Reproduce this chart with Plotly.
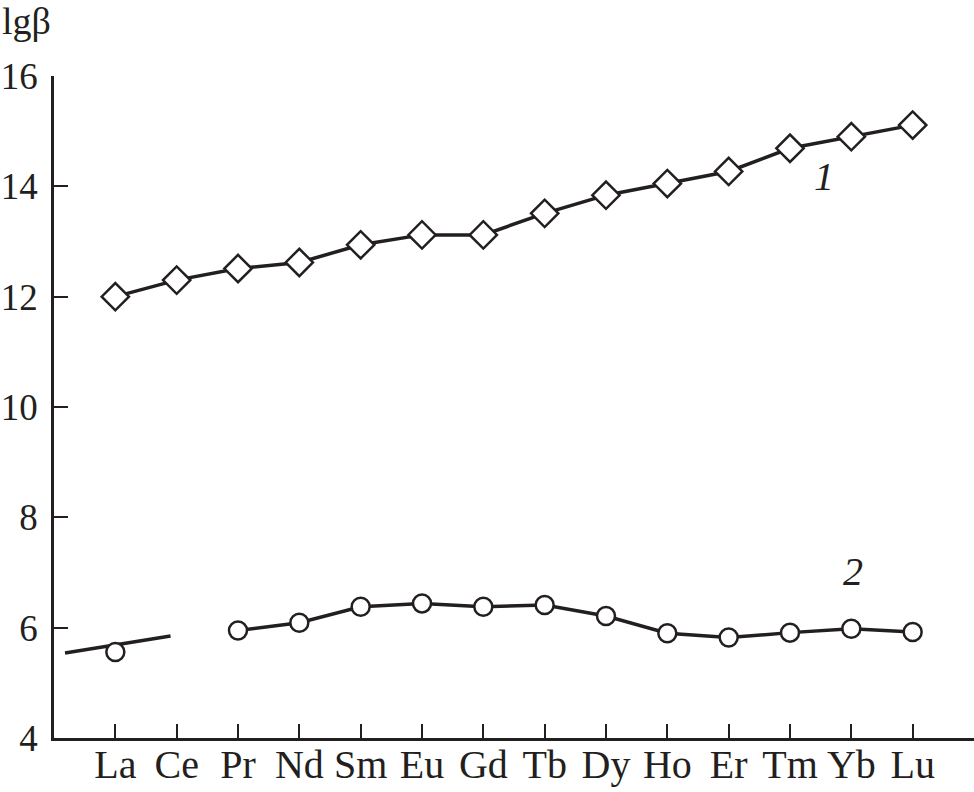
import plotly.graph_objects as go

elements = ["La", "Ce", "Pr", "Nd", "Sm", "Eu", "Gd", "Tb", "Dy", "Ho", "Er", "Tm", "Yb", "Lu"]
series1 = [12.00, 12.30, 12.51, 12.62, 12.94, 13.12, 13.12, 13.51, 13.84, 14.05, 14.27, 14.69, 14.90, 15.11]
series2 = [5.56, None, 5.95, 6.09, 6.38, 6.44, 6.38, 6.41, 6.21, 5.90, 5.82, 5.91, 5.98, 5.92]
trend_x = [-0.82, 0.90]
trend_y = [5.54, 5.85]
y_ticks = [4, 6, 8, 10, 12, 14, 16]

xs = list(range(len(elements)))
FONT = "Liberation Serif"
INK = "#231f20"

fig = go.Figure()
fig.add_trace(go.Scatter(x=trend_x, y=trend_y, mode="lines",
                         line=dict(color=INK, width=3.5), showlegend=False))
fig.add_trace(go.Scatter(x=xs, y=series1, mode="lines+markers",
                         line=dict(color=INK, width=3.5),
                         marker=dict(symbol="diamond", size=21, color="white",
                                     line=dict(color=INK, width=2.5)),
                         showlegend=False))
fig.add_trace(go.Scatter(x=xs, y=series2, mode="lines+markers", connectgaps=False,
                         line=dict(color=INK, width=3.5),
                         marker=dict(symbol="circle", size=18, color="white",
                                     line=dict(color=INK, width=2.5)),
                         showlegend=False))

fig.add_annotation(x=11.55, y=14.17, text="<i>1</i>", showarrow=False,
                   font=dict(family=FONT, size=40, color=INK))
fig.add_annotation(x=12.02, y=7.01, text="<i>2</i>", showarrow=False,
                   font=dict(family=FONT, size=40, color=INK))
fig.add_annotation(xref="paper", yref="paper", x=-0.0587, y=1.083, xanchor="left",
                   yanchor="middle", text="lgβ", showarrow=False,
                   font=dict(family=FONT, size=38, color=INK))

fig.update_xaxes(range=[-1, 14], tickvals=xs, ticktext=elements,
                 ticks="inside", ticklen=14, tickwidth=2, tickcolor=INK,
                 showline=True, linecolor=INK, linewidth=2.5,
                 showgrid=False, zeroline=False, automargin=False,
                 ticklabelstandoff=-11,
                 tickfont=dict(family=FONT, size=40, color=INK))
fig.update_yaxes(range=[4, 16], tickvals=y_ticks,
                 ticks="inside", ticklen=14, tickwidth=2, tickcolor=INK,
                 showline=True, linecolor=INK, linewidth=2.5,
                 showgrid=False, zeroline=False, automargin=False,
                 ticklabelstandoff=6,
                 tickfont=dict(family=FONT, size=37, color=INK))

fig.update_layout(width=974, height=792, plot_bgcolor="white", paper_bgcolor="white",
                  margin=dict(l=54, r=0, t=76, b=54), showlegend=False)

# remove the default 8px page margin so the figure fills the window exactly
fig.write_html("out.html", config={"displayModeBar": False},
               post_script="document.body.style.margin='0';")
